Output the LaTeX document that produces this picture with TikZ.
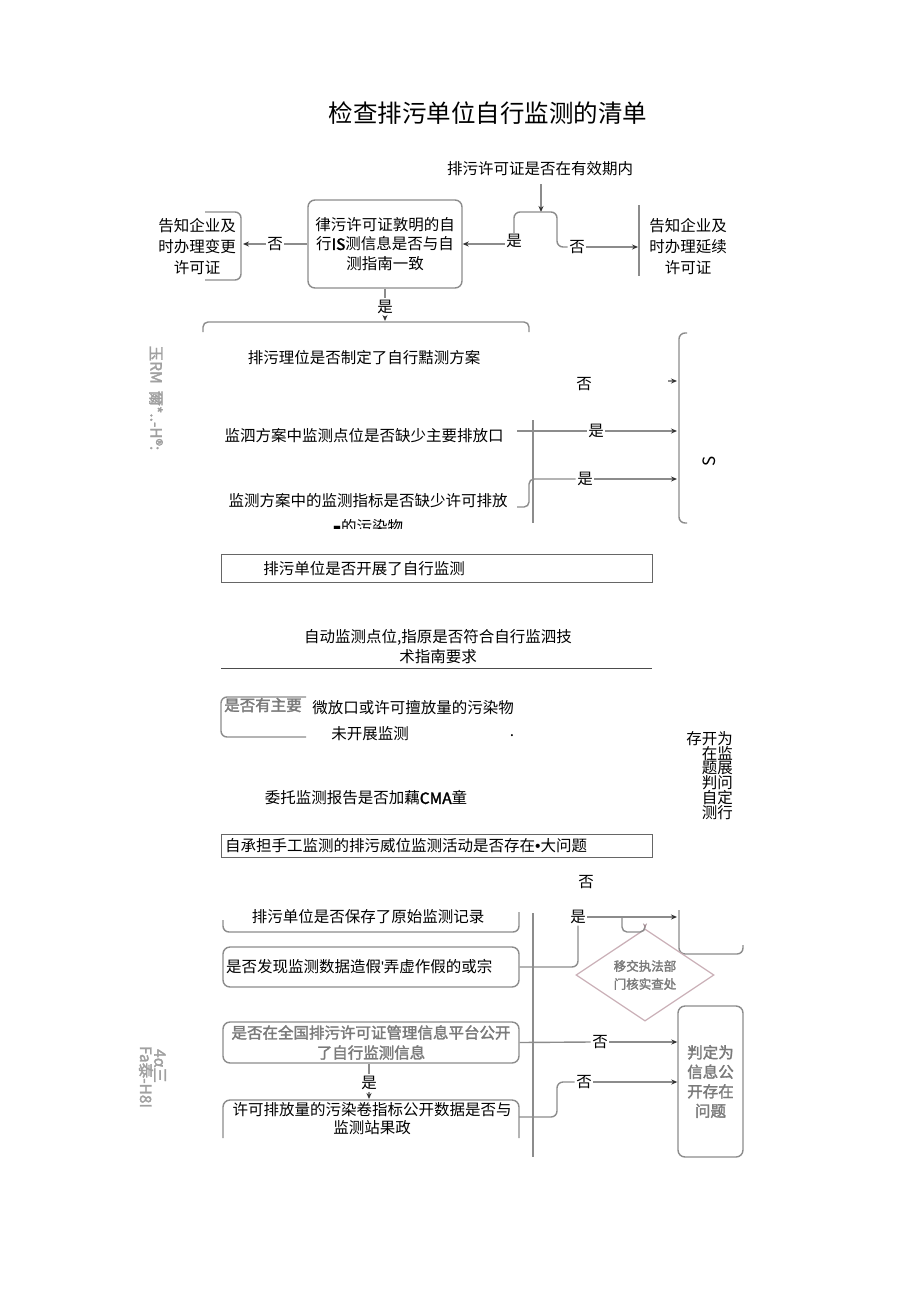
\documentclass[tikz,border=0pt]{standalone}
\usepackage{fontspec}
\setmainfont{Noto Sans CJK SC}[AutoFakeBold=2]
\newfontfamily\latinf{Liberation Sans}
\usetikzlibrary{arrows.meta,shapes.geometric}
\definecolor{lncol}{HTML}{8C8C8C}
\definecolor{gtcol}{HTML}{7A7A7A}
\definecolor{sdcol}{HTML}{A0A0A0}
\definecolor{dmcol}{HTML}{C9AEB6}
\newcommand{\fsz}{\fontsize{15.5}{19.5}\selectfont}
\begin{document}
\begin{tikzpicture}[x=1pt,y=-1pt,
  ln/.style={draw=lncol,line width=1.4pt},
  arr/.style={ln,-{Stealth[length=6pt,width=5pt,color=black!80]}},
  t/.style={inner sep=0pt,align=center,font=\fsz},
  g/.style={t,text=gtcol,font=\fsz\bfseries},
  sd/.style={t,text=sdcol,font=\fsz\bfseries,rotate=-90},
  lab/.style={t,fill=white,inner sep=1.5pt},
  rbox/.style={draw=lncol,line width=1.4pt,rounded corners=7pt},
  sbox/.style={draw=black!60,line width=1pt,inner sep=0pt}
]
\useasboundingbox[fill=white] (0,0) rectangle (920,1301);

% title
\node[t,font=\fontsize{24.5}{28}\selectfont] (title) at (488,113) {检查排污单位自行监测的清单};

% ---------- section 1
\node[t] (valid) at (540,169) {排污许可证是否在有效期内};
\coordinate (bt) at (541,212);
\draw[arr,shorten <=8pt] (valid.south -| bt) -- (bt);

\node[t,rbox,minimum width=154pt,minimum height=88pt] (b1) at (385,244)
  {律污许可证敦明的自\\行{\bfseries IS}测信息是否与自\\测指南一致};

\node[t,font=\fontsize{15.5}{21}\selectfont] (chg) at (197,247) {告知企业及\\时办理变更\\许可证};
\draw[ln,rounded corners=6pt] (205,212) -- (241,212) -- (241,280) -- (205,280);
\coordinate (chgR) at (243,244);
\node[lab] (no1) at (275,244) {否};
\draw[ln] (b1.west) -- (no1.east);
\draw[arr] (no1.west) -- (chgR);

\coordinate (j1) at (514,244);
\node[lab] (no2) at (577,247) {否};
\draw[ln,rounded corners=6pt] (j1) -- (514,212) -- (557,212) -- (557,247) -- (no2.west);
\draw[arr] (j1) -- (b1.east);
\node[lab] (yes1) at (514,241) {是};
\node[t,font=\fontsize{15.5}{21}\selectfont] (ext) at (688,247) {告知企业及\\时办理延续\\许可证};
\draw[ln] (639,205) -- (639,276);
\coordinate (extL) at (638,247);
\draw[arr] (no2.east) -- (extL);

\node[lab] (yes2) at (385,307) {是};
\coordinate (top2) at (385,321);
\draw[ln] (b1.south) -- (yes2.north);
\draw[arr] (yes2.south) -- (top2);
\draw[ln,rounded corners=5pt] (203,332) -- (203,322) -- (529,322) -- (529,332);

% ---------- section 2
\node[sd] (side1) at (156,398) {玉RM\ \ 爾*..-H®:};
\node[t] (plan) at (364,358) {排污理位是否制定了自行黠测方案};
\node[t] (no3) at (584,384) {否};
\draw[ln,rounded corners=6pt] (687,333) -- (679,333) -- (679,523) -- (687,523);
\coordinate (br1) at (677,381);
\coordinate (br2) at (677,431);
\coordinate (br3) at (677,479);
\coordinate (a1s) at (668,381);
\draw[arr] (a1s) -- (br1);

\node[t] (pt) at (364,436) {监泗方案中监测点位是否缺少主要排放口};
\draw[ln] (533,420) -- (533,523);
\coordinate (l1s) at (517,431);
\node[lab] (yes3) at (596,431) {是};
\draw[ln] (l1s) -- (yes3.west);
\draw[arr] (yes3.east) -- (br2);

\node[t] (idx) at (368,501) {监测方案中的监测指标是否缺少许可排放};
\coordinate (l2s) at (517,507);
\node[lab] (yes4) at (585,479) {是};
\draw[ln,rounded corners=5pt] (l2s) -- (529,507) -- (529,479) -- (yes4.west);
\draw[arr] (yes4.east) -- (br3);
\node[t,rotate=90,font=\fontsize{17}{17}\selectfont] (sg) at (709,461) {S};
\begin{scope}
\clip (300,512) rectangle (450,528.5);
\node[t] (pol) at (368,527) {{\fontsize{8}{8}\selectfont ■}的污染物};
\end{scope}

% ---------- section 3
\node[sbox,minimum width=431pt,minimum height=28pt] (box3) at (436.5,568) {};
\node[t] (selfm) at (364,569) {排污单位是否开展了自行监测};

\node[t,font=\fontsize{15.5}{20}\selectfont] (auto) at (438,647) {自动监测点位,指原是否符合自行监泗技\\术指南要求};
\draw[black!70,line width=0.9pt] (221,668) -- (652,668);

\node[g] (main) at (263,705) {是否有主要};
\draw[ln,rounded corners=6pt] (306,697) -- (221,697) -- (221,737) -- (306,737);
\node[t] (wei) at (413,708) {微放口或许可擅放量的污染物};
\node[t] (wkz) at (370,734) {未开展监测};
\node[t] (dot) at (512,736) {.};
\node[t,align=right,anchor=north east,font=\fontsize{15.5}{14.8}\selectfont] (judge) at (733,731)
  {存开为\\在监\\题展\\判问\\自定\\测行};

\node[t] (cma) at (366,798) {委托监测报告是否加藕{\bfseries CMA}童};
\node[sbox,minimum width=431pt,minimum height=23pt] (box4) at (436.5,846) {};
\node[t,anchor=west] (manual) at (225,846) {自承担手工监测的排污威位监测活动是否存在{\latinf •}大问题};

% ---------- section 4
\node[t] (no5) at (586,882) {否};
\node[t] (keep) at (368,917) {排污单位是否保存了原始监测记录};
\draw[ln,rounded corners=6pt] (519,912) -- (519,932) -- (223,932) -- (223,920);

\node[t,rbox,text width=290pt,align=left,inner sep=3pt,minimum height=40pt] (fake) at (371,967)
  {是否发现监测数据造假{\latinf '}弄虚作假的或宗};
\draw[ln] (533,913) -- (533,1157);

\node[lab] (yes5) at (578,917) {是};
\draw[ln,rounded corners=6pt] (fake.east) -- (fake.east -| yes5) -- (yes5.south);
\coordinate (brk) at (677,917);
\draw[arr] (yes5.east) -- (brk);
\draw[ln,rounded corners=6pt] (679,910) -- (679,954) -- (743,954) -- (743,945);

\node[diamond,draw=dmcol,line width=1.2pt,minimum width=138pt,minimum height=58pt,inner sep=0pt,
  text=gtcol,font=\fontsize{12.5}{18}\selectfont\bfseries,align=center] (dia) at (645,975)
  {移交执法部\\门核实查处};
\coordinate (bp) at (622,917);
\draw[ln,rounded corners=5pt,-{Stealth[length=5pt,width=4pt,color=dmcol!80!black]}]
  (bp) -- (622,932) -- (645,932) -- (dia.north);

\node[g,rbox,minimum width=65pt,minimum height=151pt] (res) at (710.5,1081.5)
  {判定为\\信息公\\开存在\\问题};

\node[g,rbox,minimum width=296pt,minimum height=41pt,font=\fontsize{15.5}{20}\selectfont\bfseries] (pub) at (371,1042.5)
  {是否在全国排污许可证管理信息平台公开\\了自行监测信息};
\node[lab] (no6) at (600,1042) {否};
\draw[ln] (pub.east) -- (no6.west);
\draw[arr] (no6.east) -- (res.west |- no6);

\node[lab] (yes6) at (369,1083) {是};
\coordinate (dtop) at (369,1099);
\draw[ln] (pub.south -| yes6) -- (yes6.north);
\draw[arr] (yes6.south) -- (dtop);

\draw[ln,rounded corners=7pt] (223,1138) -- (223,1100) -- (519,1100) -- (519,1138);
\node[t,font=\fontsize{15.5}{18}\selectfont] (cmp) at (372,1119) {许可排放量的污染卷指标公开数据是否与\\监测站果政};
\node[lab] (no7) at (584,1082) {否};
\coordinate (dR) at (519,1117);
\draw[ln,rounded corners=6pt] (dR) -- (557,1117) -- (557,1082) -- (no7.west);
\draw[arr] (no7.east) -- (res.west |- no7);

\node[sd] (side2) at (160,1066) {4α三};
\node[sd] (side3) at (146,1077) {Fa泰-H8I};
\end{tikzpicture}
\end{document}
